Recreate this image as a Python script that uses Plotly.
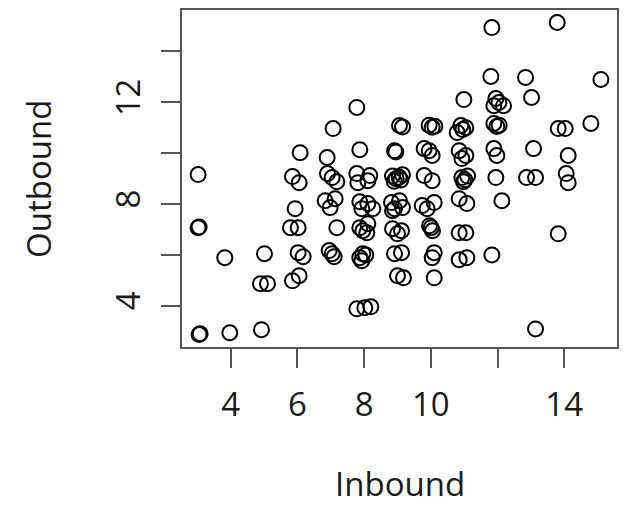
import plotly.graph_objects as go

# Inbound / outbound counts (slightly jittered so overlapping points stay visible)
inbound = [
    3.02, 3.02, 3.05, 3.08, 3.05,
    3.82, 3.97,
    5.01, 4.89, 5.10, 4.92,
    6.08, 5.85, 6.05, 5.93, 5.79, 6.02, 6.02, 6.17, 5.85, 6.05,
    6.89, 7.07, 6.90, 7.04, 7.18, 6.83, 7.13, 6.98, 7.18, 6.95, 7.04, 7.10,
    7.78, 7.87, 7.78, 8.17, 7.81, 8.11, 7.87, 8.11, 7.93, 8.26,
    7.87, 8.11, 8.08, 7.96, 7.87, 7.96, 7.93, 8.05, 7.78, 8.02, 8.20,
    9.06, 9.15, 8.91, 8.95, 8.85, 8.96, 9.05, 8.90, 9.10, 9.15,
    8.82, 9.06, 8.91, 8.85, 9.15, 8.85, 9.00, 9.12, 8.91, 9.12, 9.00, 9.18,
    10.04, 9.95, 10.12, 9.80, 10.04, 9.95, 9.80, 10.04, 9.74, 10.10, 9.89,
    10.01, 10.05, 9.96, 10.04, 10.10, 10.10,
    10.99, 10.90, 10.79, 11.05, 10.96, 10.85, 11.05, 10.93,
    10.93, 11.02, 11.10, 10.98, 10.85, 11.08, 10.85, 11.05, 10.85, 11.08,
    11.83, 11.80, 11.95, 11.89, 12.18, 12.04, 11.89, 11.98, 12.05,
    11.89, 11.98, 11.95, 12.13, 11.83,
    12.84, 13.02, 13.08, 12.87, 13.14, 13.14,
    13.79, 13.82, 14.03, 14.12, 14.06, 14.12, 13.82, 14.80,
    15.10,
]
outbound = [
    9.16, 7.07, 7.10, 2.90, 2.87,
    5.89, 2.94,
    6.05, 4.87, 4.87, 3.06,
    10.02, 9.08, 8.84, 7.82, 7.07, 7.07, 6.09, 5.93, 4.98, 5.18,
    9.83, 10.97, 9.20, 9.04, 8.88, 8.13, 8.21, 7.86, 7.07, 6.17, 6.05, 5.93,
    11.80, 10.14, 9.20, 9.12, 8.84, 8.92, 8.09, 8.02, 7.82, 7.82,
    7.07, 7.23, 6.87, 6.95, 5.89, 6.05, 5.77, 6.00, 3.88, 3.92, 3.96,
    11.09, 11.03, 10.10, 10.05, 9.10, 9.00, 9.05, 8.90, 8.95, 9.15,
    8.06, 8.13, 7.82, 7.74, 7.86, 7.03, 6.83, 6.95, 6.05, 6.09, 5.18, 5.10,
    11.02, 11.10, 11.06, 10.18, 9.91, 10.10, 9.12, 8.92, 7.94, 8.06, 7.82,
    7.07, 6.95, 7.15, 5.89, 6.09, 5.10,
    12.11, 11.09, 10.81, 11.00, 10.93, 10.10, 9.91, 9.79,
    9.04, 8.96, 9.10, 8.88, 8.21, 8.02, 6.87, 6.87, 5.81, 5.89,
    14.94, 13.02, 12.15, 11.87, 11.87, 11.99, 11.17, 11.05, 11.10,
    10.18, 9.91, 9.04, 8.13, 6.00,
    12.98, 12.19, 10.18, 9.04, 9.04, 3.09,
    15.14, 10.97, 10.97, 9.91, 9.20, 8.84, 6.83, 11.17,
    12.90,
]

x_ticks = [4, 6, 8, 10, 12, 14]
x_tick_labels = ["4", "6", "8", "10", "", "14"]
y_ticks = [4, 6, 8, 10, 12, 14]
y_tick_labels = ["4", "", "8", "", "12", ""]


def padded_range(values, frac=0.04):
    lo, hi = min(values), max(values)
    pad = (hi - lo) * frac
    return [lo - pad, hi + pad]


FONT = "Open Sans"
AXIS_COLOR = "#555555"
TEXT_COLOR = "#1a1a1a"

fig = go.Figure(
    go.Scatter(
        x=inbound,
        y=outbound,
        mode="markers",
        marker=dict(
            symbol="circle-open",
            size=15,
            color="#000000",
            line=dict(width=2, color="#000000"),
        ),
        hoverinfo="x+y",
    )
)

axis_common = dict(
    showgrid=False,
    zeroline=False,
    showline=True,
    mirror=True,
    linecolor=AXIS_COLOR,
    linewidth=2,
    ticks="outside",
    ticklen=19,
    tickwidth=2,
    tickcolor=AXIS_COLOR,
    tickfont=dict(family=FONT, size=33, color=TEXT_COLOR),
)

fig.update_xaxes(
    range=padded_range(inbound),
    tickmode="array",
    tickvals=x_ticks,
    ticktext=x_tick_labels,
    ticklabelstandoff=8,
    **axis_common,
)
fig.update_yaxes(
    range=padded_range(outbound),
    tickmode="array",
    tickvals=y_ticks,
    ticktext=y_tick_labels,
    tickangle=-90,
    ticklabelstandoff=8,
    **axis_common,
)

fig.add_annotation(
    text="Inbound", xref="paper", yref="paper", x=0.5, y=-0.405,
    xanchor="center", yanchor="middle", showarrow=False,
    font=dict(family=FONT, size=33, color=TEXT_COLOR),
)
fig.add_annotation(
    text="Outbound", xref="paper", yref="paper", x=-0.33, y=0.5,
    xanchor="center", yanchor="middle", showarrow=False, textangle=-90,
    font=dict(family=FONT, size=33, color=TEXT_COLOR),
)

fig.update_layout(
    width=626,
    height=506,
    margin=dict(l=182, r=7, t=10, b=159),
    paper_bgcolor="white",
    plot_bgcolor="white",
    showlegend=False,
)

fig.write_html("out.html")
